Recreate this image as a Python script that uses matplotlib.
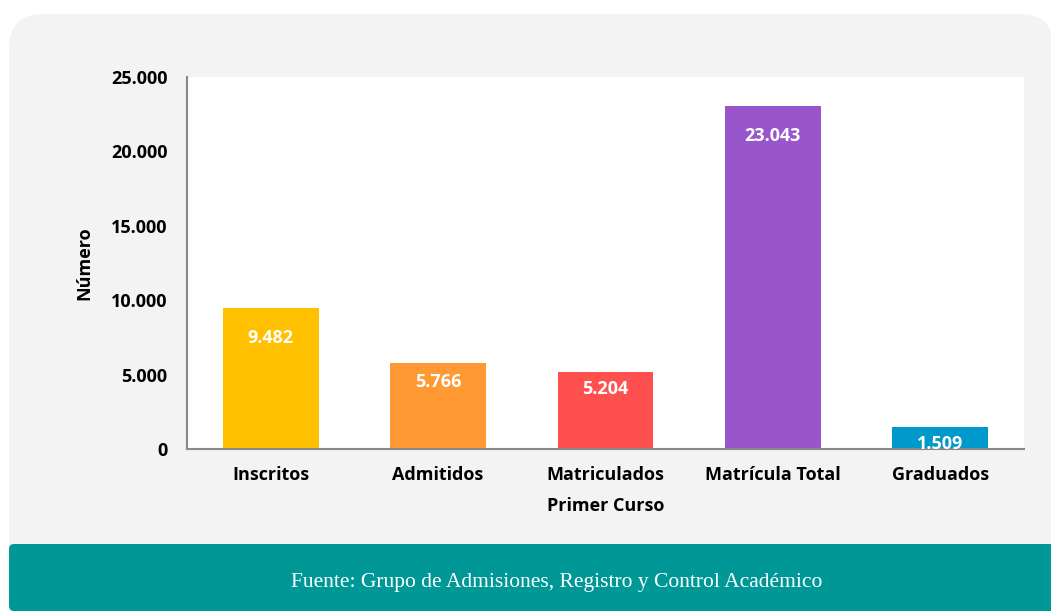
import numpy as np
import matplotlib
matplotlib.use("Agg")
import matplotlib.pyplot as plt
from matplotlib.patches import FancyBboxPatch
from matplotlib.transforms import Affine2D
from matplotlib.ticker import FuncFormatter

# Data
categorias = ["Inscritos", "Admitidos", "Matriculados\nPrimer Curso", "Matrícula Total", "Graduados"]
valores = [9482, 5766, 5204, 23043, 1509]
colores = ["#FFC000", "#FF9933", "#FF5050", "#9955CC", "#0099CC"]
yticks = [0, 5000, 10000, 15000, 20000, 25000]
fuente = "Fuente: Grupo de Admisiones, Registro y Control Académico"

# label offsets below bar top (pixels)
offsets = [30, 19, 17, 30, 17]

W, H = 1051, 611
plt.rcParams['font.family'] = ['Open Sans', 'DejaVu Sans']
fig = plt.figure(figsize=(W / 100, H / 100), dpi=100)
fig.patch.set_facecolor("white")

# pixel transform (origin bottom-left)
px = Affine2D().scale(1 / W, 1 / H) + fig.transFigure

panel = FancyBboxPatch((9, 0), 1045, 597, boxstyle="round,pad=0,rounding_size=34",
                       transform=px, facecolor="#f3f3f3", edgecolor="none", zorder=0)
fig.add_artist(panel)
footer = FancyBboxPatch((9, 0), 1100, 67, boxstyle="round,pad=0,rounding_size=5",
                        transform=px, facecolor="#009797", edgecolor="none", zorder=1)
fig.add_artist(footer)
fig.text(557 / W, 28 / H, fuente, color="white", ha="center", va="center",
         fontsize=15.5, family=["Liberation Serif", "DejaVu Serif"])

ax = fig.add_axes([187 / W, 162 / H, 837 / W, 372 / H])
ax.set_facecolor("white")
x = np.arange(len(categorias))
ax.bar(x, valores, width=0.573, color=colores, zorder=2)
ax.set_xlim(-0.5, len(categorias) - 0.5)
ax.set_ylim(0, 25000)
ax.set_yticks(yticks)
ax.yaxis.set_major_formatter(FuncFormatter(lambda v, p: f"{int(v):,}".replace(",", ".")))
ax.set_xticks(x)
ax.set_xticklabels(categorias, fontsize=13, fontweight="bold", linespacing=1.9)
for lab in ax.get_yticklabels():
    lab.set_fontsize(13)
    lab.set_fontweight("bold")
ax.tick_params(axis="y", length=0, pad=14)
ax.tick_params(axis="x", length=0, pad=12.5)
for s in ["top", "right"]:
    ax.spines[s].set_visible(False)
for s in ["left", "bottom"]:
    ax.spines[s].set_color("#888888")
    ax.spines[s].set_linewidth(1.5)
ax.set_ylabel("Número", fontsize=13, fontweight="bold")
ax.yaxis.set_label_coords(-0.112, 0.5)

for xi, v, off in zip(x, valores, offsets):
    t = ax.annotate(f"{v:,}".replace(",", "."), (xi, v), xytext=(0, -off * 0.72),
                    textcoords="offset points", ha="center", va="center",
                    color="white", fontsize=13, fontweight="bold", zorder=3,
                    annotation_clip=False)
    t.set_clip_path(ax.patch)

fig.savefig("out.png", dpi=100)
